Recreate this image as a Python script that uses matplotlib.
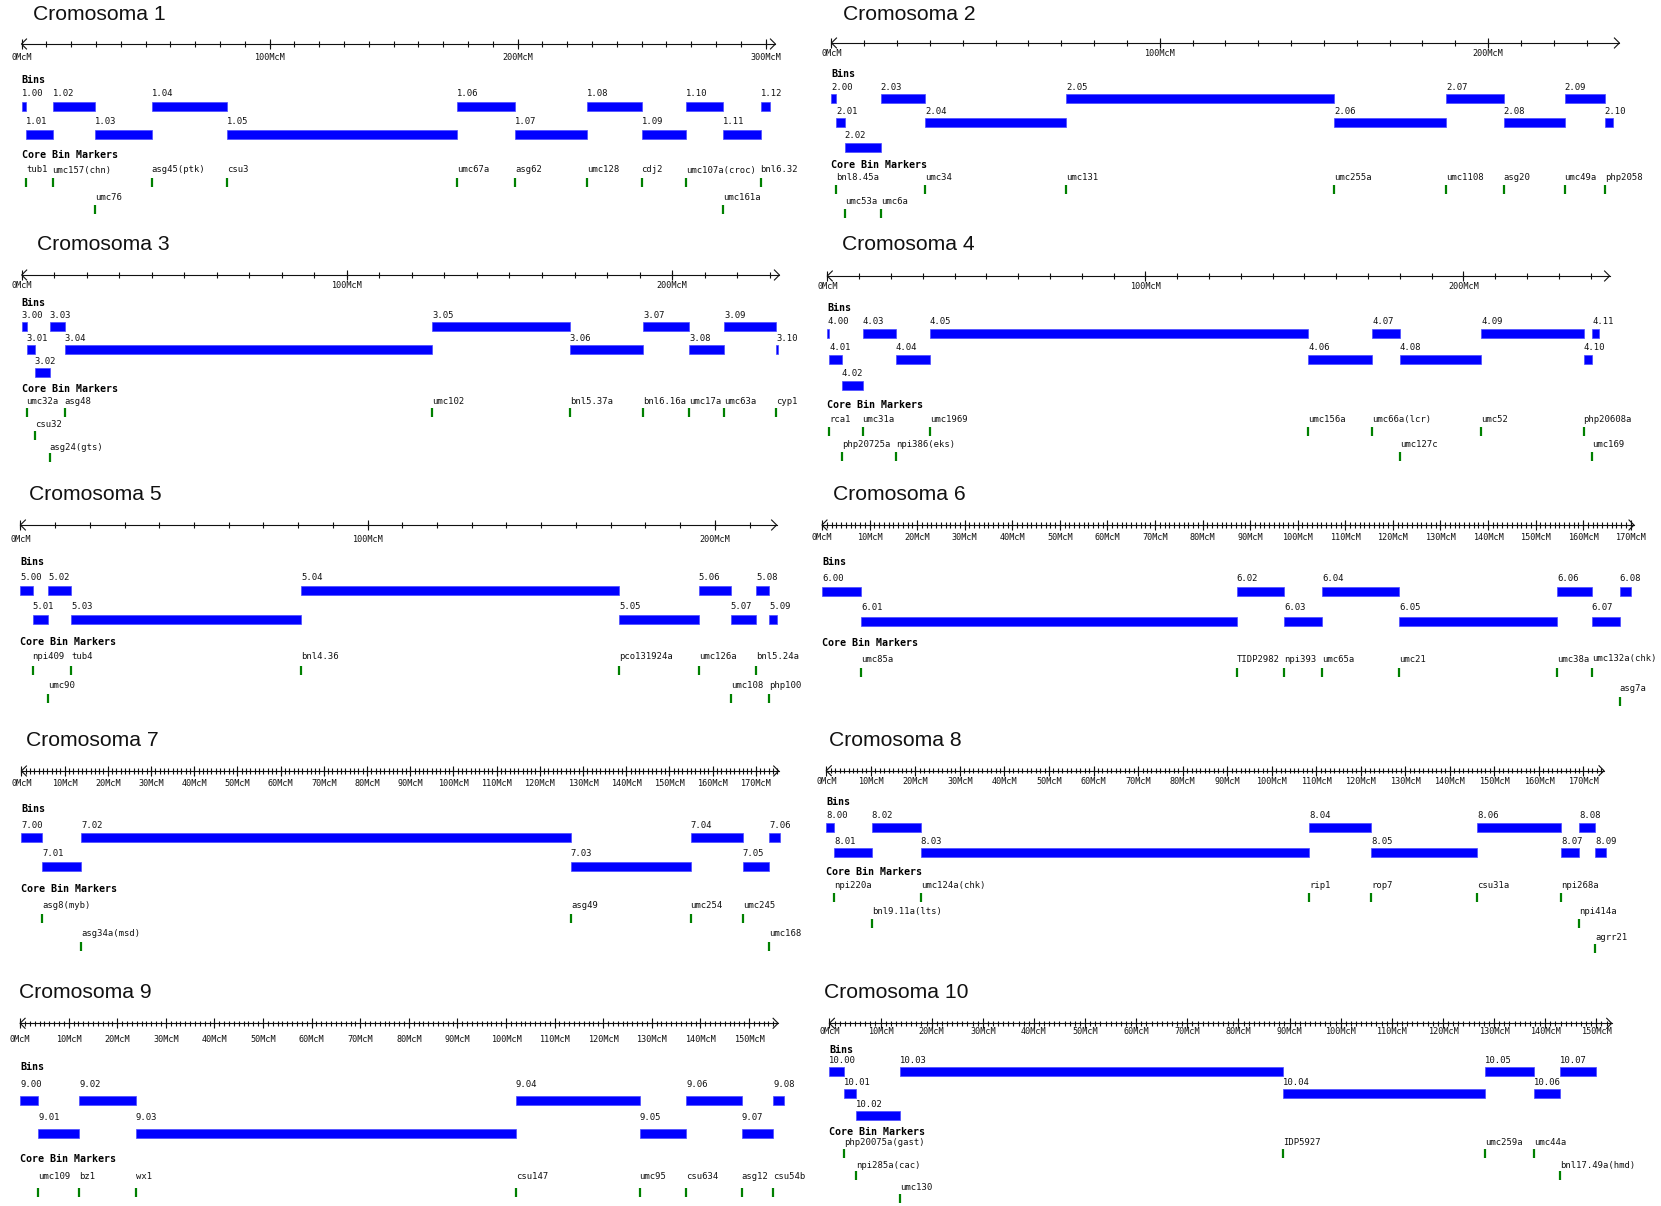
import numpy as np
import matplotlib
matplotlib.use('Agg')
import matplotlib.pyplot as plt

W, H, DPI = 1661, 1206, 100

# ---- bins: labels, edges (cM) and display row ----
bins_1 = ['1.00', '1.01', '1.02', '1.03', '1.04', '1.05', '1.06', '1.07', '1.08', '1.09', '1.10', '1.11', '1.12']
edges_1 = [0, 2, 12.5, 29.5, 52.5, 83, 175.5, 199, 228, 250, 268, 283, 298, 301.7]
rows_1 = [0, 1, 0, 1, 0, 1, 0, 1, 0, 1, 0, 1, 0]

bins_2 = ['2.00', '2.01', '2.02', '2.03', '2.04', '2.05', '2.06', '2.07', '2.08', '2.09', '2.10']
edges_2 = [0, 1.5, 4, 15, 28.6, 71.5, 153.2, 187.2, 204.8, 223.3, 235.5, 238]
rows_2 = [0, 1, 2, 0, 1, 0, 1, 0, 1, 0, 1]

bins_3 = ['3.00', '3.01', '3.02', '3.03', '3.04', '3.05', '3.06', '3.07', '3.08', '3.09', '3.10']
edges_3 = [0, 1.5, 4, 8.6, 13.2, 126.2, 168.5, 191.2, 205.2, 216, 232, 232.5]
rows_3 = [0, 1, 2, 0, 1, 0, 1, 0, 1, 0, 1]

bins_4 = ['4.00', '4.01', '4.02', '4.03', '4.04', '4.05', '4.06', '4.07', '4.08', '4.09', '4.10', '4.11']
edges_4 = [0, 0.6, 4.6, 11.1, 21.5, 32.2, 151.3, 171.3, 180, 205.6, 237.8, 240.5, 242.8]
rows_4 = [0, 1, 2, 0, 1, 0, 1, 0, 1, 0, 1, 0]

bins_5 = ['5.00', '5.01', '5.02', '5.03', '5.04', '5.05', '5.06', '5.07', '5.08', '5.09']
edges_5 = [0, 3.5, 8, 14.7, 80.9, 172.4, 195.4, 204.6, 212, 215.6, 218]
rows_5 = [0, 1, 0, 1, 0, 1, 0, 1, 0, 1]

bins_6 = ['6.00', '6.01', '6.02', '6.03', '6.04', '6.05', '6.06', '6.07', '6.08']
edges_6 = [0, 8.3, 87.2, 97.2, 105.1, 121.3, 154.5, 161.8, 167.7, 170]
rows_6 = [0, 1, 0, 1, 0, 1, 0, 1, 0]

bins_7 = ['7.00', '7.01', '7.02', '7.03', '7.04', '7.05', '7.06']
edges_7 = [0, 4.8, 13.9, 127.2, 154.9, 167, 173.1, 175.6]
rows_7 = [0, 1, 0, 1, 0, 1, 0]

bins_8 = ['8.00', '8.01', '8.02', '8.03', '8.04', '8.05', '8.06', '8.07', '8.08', '8.09']
edges_8 = [0, 1.8, 10.2, 21.2, 108.4, 122.3, 146.1, 165, 169, 172.6, 175]
rows_8 = [0, 1, 0, 1, 0, 1, 0, 1, 0, 1]

bins_9 = ['9.00', '9.01', '9.02', '9.03', '9.04', '9.05', '9.06', '9.07', '9.08']
edges_9 = [0, 3.7, 12.2, 23.8, 102, 127.5, 137.1, 148.5, 155, 157.2]
rows_9 = [0, 1, 0, 1, 0, 1, 0, 1, 0]

bins_10 = ['10.00', '10.01', '10.02', '10.03', '10.04', '10.05', '10.06', '10.07']
edges_10 = [0, 2.9, 5.2, 13.8, 88.7, 128.2, 137.8, 142.9, 150]
rows_10 = [0, 1, 2, 0, 1, 0, 1, 0]

# ---- core bin markers: name, position (cM), display row ----
mk_1 = ['tub1', 'umc157(chn)', 'umc76', 'asg45(ptk)', 'csu3', 'umc67a', 'asg62', 'umc128', 'cdj2', 'umc107a(croc)', 'umc161a', 'bnl6.32']
mk_pos_1 = [2, 12.5, 29.5, 52.5, 83, 175.5, 199, 228, 250, 268, 283, 298]
mk_rows_1 = [0, 0, 1, 0, 0, 0, 0, 0, 0, 0, 1, 0]

mk_2 = ['bnl8.45a', 'umc53a', 'umc6a', 'umc34', 'umc131', 'umc255a', 'umc1108', 'asg20', 'umc49a', 'php2058']
mk_pos_2 = [1.5, 4, 15, 28.6, 71.5, 153.2, 187.2, 204.8, 223.3, 235.5]
mk_rows_2 = [0, 1, 1, 0, 0, 0, 0, 0, 0, 0]

mk_3 = ['umc32a', 'csu32', 'asg24(gts)', 'asg48', 'umc102', 'bnl5.37a', 'bnl6.16a', 'umc17a', 'umc63a', 'cyp1']
mk_pos_3 = [1.5, 4, 8.6, 13.2, 126.2, 168.5, 191.2, 205.2, 216, 232]
mk_rows_3 = [0, 1, 2, 0, 0, 0, 0, 0, 0, 0]

mk_4 = ['rca1', 'php20725a', 'umc31a', 'npi386(eks)', 'umc1969', 'umc156a', 'umc66a(lcr)', 'umc127c', 'umc52', 'php20608a', 'umc169']
mk_pos_4 = [0.6, 4.6, 11.1, 21.5, 32.2, 151.3, 171.3, 180, 205.6, 237.8, 240.5]
mk_rows_4 = [0, 1, 0, 1, 0, 0, 0, 1, 0, 0, 1]

mk_5 = ['npi409', 'umc90', 'tub4', 'bnl4.36', 'pco131924a', 'umc126a', 'umc108', 'bnl5.24a', 'php100']
mk_pos_5 = [3.5, 8, 14.7, 80.9, 172.4, 195.4, 204.6, 212, 215.6]
mk_rows_5 = [0, 1, 0, 0, 0, 0, 1, 0, 1]

mk_6 = ['umc85a', 'TIDP2982', 'npi393', 'umc65a', 'umc21', 'umc38a', 'umc132a(chk)', 'asg7a']
mk_pos_6 = [8.3, 87.2, 97.2, 105.1, 121.3, 154.5, 161.8, 167.7]
mk_rows_6 = [0, 0, 0, 0, 0, 0, 0, 1]

mk_7 = ['asg8(myb)', 'asg34a(msd)', 'asg49', 'umc254', 'umc245', 'umc168']
mk_pos_7 = [4.8, 13.9, 127.2, 154.9, 167, 173.1]
mk_rows_7 = [0, 1, 0, 0, 0, 1]

mk_8 = ['npi220a', 'bnl9.11a(lts)', 'umc124a(chk)', 'rip1', 'rop7', 'csu31a', 'npi268a', 'npi414a', 'agrr21']
mk_pos_8 = [1.8, 10.2, 21.2, 108.4, 122.3, 146.1, 165, 169, 172.6]
mk_rows_8 = [0, 1, 0, 0, 0, 0, 0, 1, 2]

mk_9 = ['umc109', 'bz1', 'wx1', 'csu147', 'umc95', 'csu634', 'asg12', 'csu54b']
mk_pos_9 = [3.7, 12.2, 23.8, 102, 127.5, 137.1, 148.5, 155]
mk_rows_9 = [0, 0, 0, 0, 0, 0, 0, 0]

mk_10 = ['php20075a(gast)', 'npi285a(cac)', 'umc130', 'IDP5927', 'umc259a', 'umc44a', 'bnl17.49a(hmd)']
mk_pos_10 = [2.9, 5.2, 13.8, 88.7, 128.2, 137.8, 142.9]
mk_rows_10 = [0, 1, 2, 0, 0, 0, 1]

# ---- chromosome axis: length (cM), labelled step, minor step ----
lengths = [304, 240, 233, 246, 217.8, 170.7, 175.3, 174.6, 156, 153]
major_step = [100, 100, 100, 100, 100, 10, 10, 10, 10, 10]
minor_step = [10, 10, 10, 10, 10, 1, 1, 1, 1, 1]

chroms = [
    (bins_1, edges_1, rows_1, mk_1, mk_pos_1, mk_rows_1),
    (bins_2, edges_2, rows_2, mk_2, mk_pos_2, mk_rows_2),
    (bins_3, edges_3, rows_3, mk_3, mk_pos_3, mk_rows_3),
    (bins_4, edges_4, rows_4, mk_4, mk_pos_4, mk_rows_4),
    (bins_5, edges_5, rows_5, mk_5, mk_pos_5, mk_rows_5),
    (bins_6, edges_6, rows_6, mk_6, mk_pos_6, mk_rows_6),
    (bins_7, edges_7, rows_7, mk_7, mk_pos_7, mk_rows_7),
    (bins_8, edges_8, rows_8, mk_8, mk_pos_8, mk_rows_8),
    (bins_9, edges_9, rows_9, mk_9, mk_pos_9, mk_rows_9),
    (bins_10, edges_10, rows_10, mk_10, mk_pos_10, mk_rows_10),
]

# ---- panel placement in pixels ----
# x0, px/cM, title x, title y, axis y, tick label y, "Bins" y, bar row0 y, bar dy,
# label offset, "Core Bin Markers" y, marker row0 y, marker dy
LAYOUT = [
    (21.5, 2.48, 33, 15, 44, 57, 80, 106.5, 28, 12.5, 155, 182.5, 27),
    (831.5, 3.283, 843, 15, 43, 54, 74, 98, 24.5, 11, 165, 189, 24),
    (21.7, 3.252, 37, 245, 275, 285, 303.3, 326.7, 22.8, 10.7, 389.3, 412.5, 22.7),
    (827.3, 3.18, 842, 245, 276, 286.7, 308.3, 333.8, 26, 12, 405, 431.3, 25.5),
    (20.4, 3.472, 29, 495, 525, 539, 561.7, 590.7, 28.8, 13.4, 641.7, 670, 28.7),
    (822, 4.757, 833, 495, 525, 537.3, 561.7, 591.3, 29.7, 13, 643.3, 672, 29.3),
    (21.4, 4.32, 25.5, 740, 771, 783.3, 809.3, 837.7, 29, 12.7, 889.3, 918, 28.7),
    (826.3, 4.454, 829, 740, 770.7, 781.7, 801.7, 827.5, 25.3, 11.5, 872.3, 897.2, 25.8),
    (20.1, 4.859, 19, 992.6, 1023.3, 1039, 1066.7, 1100.6, 33, 16, 1158.9, 1192.8, 25),
    (829.4, 5.113, 824, 992.6, 1023.3, 1032, 1049.8, 1071, 22.2, 10.7, 1132.4, 1153.6, 22.2),
]

MONO = 'DejaVu Sans Mono'
BLUE = '#0000ff'
GREEN = '#008000'
INK = '#111111'

fig = plt.figure(figsize=(W / DPI, H / DPI), dpi=DPI)
fig.patch.set_facecolor('white')

for k, (names, edges, rows, mks, mk_pos, mk_rows) in enumerate(chroms):
    x0, s, tx, ty, ay, tly, by, b0, bdy, lo, cy, m0, mdy = LAYOUT[k]
    ax = fig.add_axes([0, 0, 1, 1])
    ax.set_xlim(-x0 / s, (W - x0) / s)
    ax.set_ylim(H, 0)
    ax.axis('off')

    fig.text(tx / W, 1 - ty / H, f'Cromosoma {k + 1}', fontsize=15.2,
             family='Liberation Sans', va='center', ha='left', color='#111111')

    # chromosome scale
    L = lengths[k]
    ax.plot([0, L], [ay, ay], color=INK, lw=0.8)
    a = 5 / s
    ax.plot([a, 0, a], [ay - 5, ay, ay + 5], color=INK, lw=0.8)
    ax.plot([L - a, L, L - a], [ay - 5, ay, ay + 5], color=INK, lw=0.8)
    minors = np.arange(0, L, minor_step[k])
    ax.vlines(minors, ay - 2.6, ay + 2.6, color=INK, lw=0.8)
    majors = np.arange(0, L, major_step[k])
    ax.vlines(majors, ay - 5, ay + 5, color=INK, lw=0.8)
    for m in majors:
        ax.text(m, tly, f'{int(m)}McM', family=MONO, fontsize=6.1,
                ha='center', va='center', color=INK)

    # bins
    ax.text(0, by, 'Bins', family=MONO, fontsize=7.2, fontweight='bold',
            ha='left', va='center', color='black')
    starts = np.array(edges[:-1])
    ends = np.array(edges[1:])
    ys = b0 + bdy * np.array(rows)
    ax.barh(ys, ends - starts, left=starts, height=9, color=BLUE,
            edgecolor='#4a4aff', linewidth=0.5)
    for nm, x, y in zip(names, starts, ys):
        ax.text(x, y - lo, nm, family=MONO, fontsize=6.4, ha='left',
                va='center', color=INK)

    # core bin markers
    ax.text(0, cy, 'Core Bin Markers', family=MONO, fontsize=7.2,
            fontweight='bold', ha='left', va='center', color='black')
    my = m0 + mdy * np.array(mk_rows)
    ax.vlines(mk_pos, my - 4.5, my + 4.5, color=GREEN, lw=1.6)
    for nm, x, y in zip(mks, mk_pos, my):
        ax.text(x, y - lo, nm, family=MONO, fontsize=6.4, ha='left',
                va='center', color=INK)

fig.savefig('out.png', dpi=DPI, facecolor='white')
